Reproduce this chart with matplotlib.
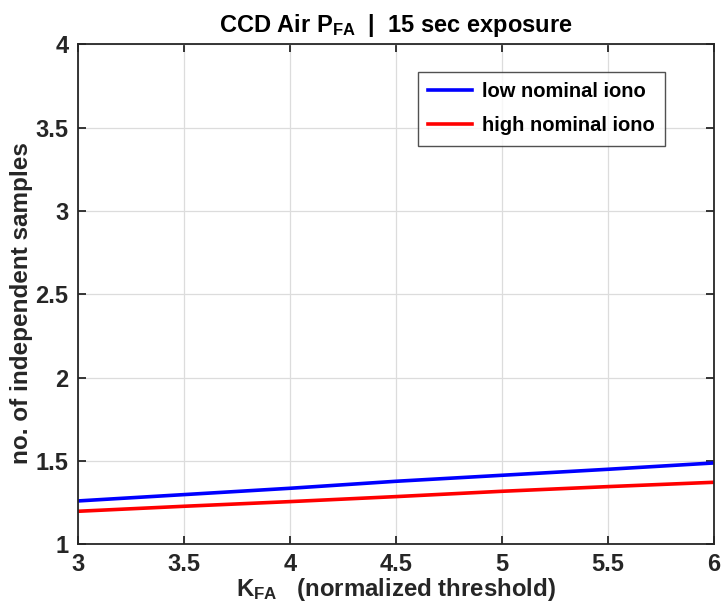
import matplotlib
matplotlib.use("Agg")
import matplotlib.pyplot as plt

# K_FA threshold values and number of independent samples
k_fa = [3.0, 3.5, 4.0, 4.5, 5.0, 5.5, 6.0]
low_iono = [1.260, 1.298, 1.336, 1.378, 1.414, 1.450, 1.488]
high_iono = [1.198, 1.228, 1.256, 1.286, 1.318, 1.346, 1.372]

x_ticks = [3, 3.5, 4, 4.5, 5, 5.5, 6]
x_ticklabels = ["3", "3.5", "4", "4.5", "5", "5.5", "6"]
y_ticks = [1, 1.5, 2, 2.5, 3, 3.5, 4]
y_ticklabels = ["1", "1.5", "2", "2.5", "3", "3.5", "4"]

plt.rcParams.update({
    "font.family": ["Liberation Sans", "DejaVu Sans"],
    "font.weight": "bold",
    "axes.titleweight": "bold",
    "axes.labelweight": "bold",
    "mathtext.fontset": "custom",
    "mathtext.rm": "Liberation Sans:bold",
    "mathtext.bf": "Liberation Sans:bold",
    "mathtext.it": "Liberation Sans:bold",
    "mathtext.sf": "Liberation Sans:bold",
    "mathtext.default": "bf",
})

AX_COL = "#262626"

fig = plt.figure(figsize=(7.22, 6.15), dpi=100)
ax = fig.add_axes([0.108, 0.115, 0.881, 0.813])

ax.plot(k_fa, low_iono, color="#0000ff", lw=2.6, label="low nominal iono")
ax.plot(k_fa, high_iono, color="#ff0000", lw=2.6, label="high nominal iono")

ax.set_xlim(3, 6)
ax.set_ylim(1, 4)
ax.set_xticks(x_ticks, x_ticklabels)
ax.set_yticks(y_ticks, y_ticklabels)
ax.grid(True, color="#dcdcdc", lw=0.9)
ax.set_axisbelow(True)

for s in ax.spines.values():
    s.set_color(AX_COL)
    s.set_linewidth(1.3)
ax.tick_params(direction="in", length=6, width=1.3, color=AX_COL,
               labelsize=17, labelcolor=AX_COL, top=True, right=True)
ax.tick_params(axis="x", pad=6)
ax.tick_params(axis="y", pad=7)
for lab in ax.get_xticklabels() + ax.get_yticklabels():
    lab.set_fontweight("bold")

ax.set_xlabel(r"$\mathbf{K_{FA}}$   (normalized threshold)", fontsize=17.3,
              color=AX_COL, fontweight="bold", labelpad=0)
ax.set_ylabel("no. of independent samples", fontsize=17.5,
              color=AX_COL, fontweight="bold")
ax.yaxis.set_label_coords(-0.071, 0.483)
ax.set_title(r"CCD Air $\mathbf{P_{FA}}$  |  15 sec exposure", fontsize=17,
             color="black", fontweight="bold", pad=9)

leg = ax.legend(loc="upper right", bbox_to_anchor=(0.923, 0.944),
                borderaxespad=0, fontsize=14.5, frameon=True, fancybox=False,
                edgecolor=AX_COL, handlelength=2.2, borderpad=0.5,
                labelspacing=0.75, handletextpad=0.5)
leg.get_frame().set_linewidth(1.0)
for t in leg.get_texts():
    t.set_fontweight("bold")

fig.savefig("out.png", dpi=100)
